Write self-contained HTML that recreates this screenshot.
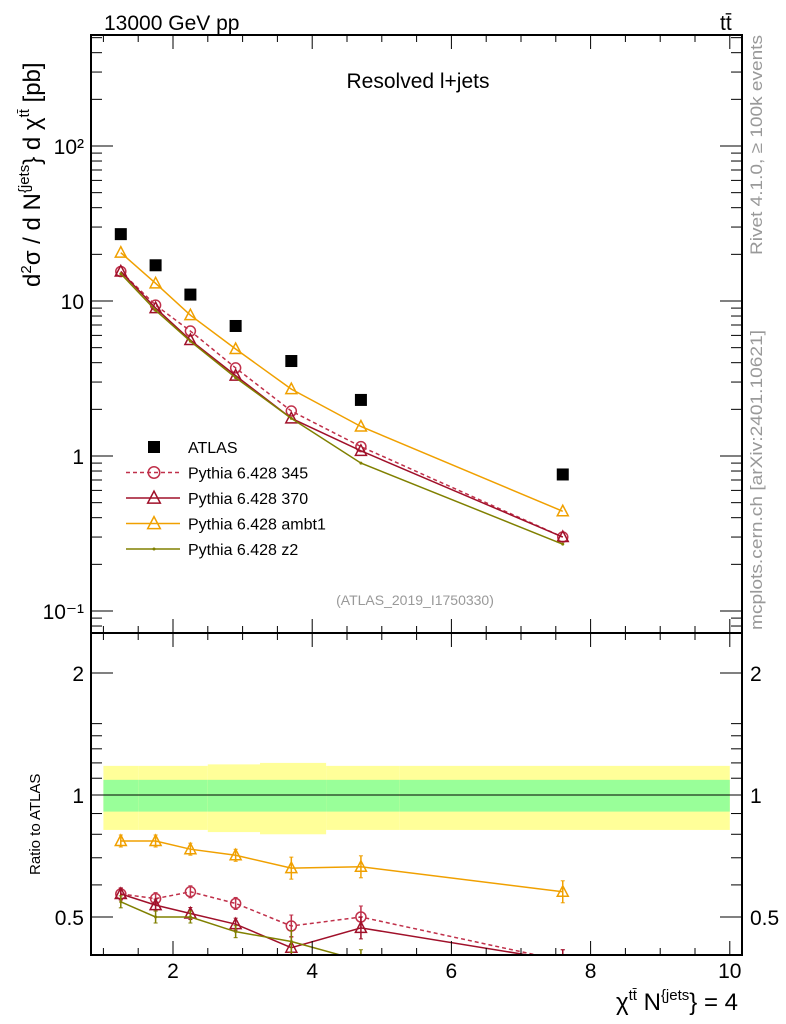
<!DOCTYPE html>
<html><head><meta charset="utf-8"><style>
body{margin:0;background:#fff}
svg{display:block;font-family:"Liberation Sans",sans-serif}
</style></head><body>
<svg id="c" width="786" height="1024" viewBox="0 0 786 1024">
<g id="g"></g>
<text x="104" y="30" font-size="21">13000 GeV pp</text>
<text x="720" y="30" font-size="21">tt̄</text>
<text x="418" y="88" font-size="21" text-anchor="middle">Resolved l+jets</text>
<text x="415" y="605" font-size="14" fill="#999" text-anchor="middle">(ATLAS_2019_I1750330)</text>
<text transform="translate(762,255) rotate(-90)" font-size="17" fill="#999" textLength="220" lengthAdjust="spacingAndGlyphs">Rivet 4.1.0, ≥ 100k events</text>
<text transform="translate(762,630) rotate(-90)" font-size="17" fill="#999" textLength="300" lengthAdjust="spacingAndGlyphs">mcplots.cern.ch [arXiv:2401.10621]</text>
<text transform="translate(40,287) rotate(-90)" font-size="24">d<tspan dy="-9" font-size="15">2</tspan><tspan dy="9">σ  /   d N</tspan><tspan dy="-11" font-size="15">{jets</tspan><tspan dy="11">} d χ</tspan><tspan dy="-11" font-size="15">tt̄</tspan><tspan dy="11"> [pb]</tspan></text>
<text transform="translate(40,875) rotate(-90)" font-size="15">Ratio to ATLAS</text>
<text x="738" y="1010" font-size="24" text-anchor="end">χ<tspan dy="-10" font-size="15">tt̄</tspan><tspan dy="10"> N</tspan><tspan dy="-10" font-size="15">{jets</tspan><tspan dy="10">} = 4</tspan></text>
</svg>
<script>
const xv=[1.25,1.75,2.25,2.9,3.7,4.7,7.6];
const edges=[1,1.5,2,2.5,3.25,4.2,5.25,10];
const atlas=[27,17,11,6.9,4.1,2.3,0.76];
const p345=[15.5,9.4,6.4,3.7,1.95,1.15,0.30];
const p370=[15.5,9.0,5.6,3.3,1.75,1.08,0.30];
const ambt1=[20.5,13,8.1,4.9,2.7,1.55,0.44];
const z2=[15,8.7,5.5,3.2,1.75,0.9,0.27];
const r345=[0.57,0.555,0.577,0.54,0.475,0.5,0.39];
const r370=[0.57,0.535,0.51,0.48,0.42,0.47,0.39];
const rambt1=[0.77,0.77,0.735,0.71,0.66,0.665,0.577];
const rz2=[0.545,0.5,0.5,0.46,0.435,0.39,0.355];
const bandStat=[1.09,1.09,1.09,1.09,1.09,1.09,1.09];
const bandTot=[1.18,1.18,1.18,1.19,1.2,1.18,1.18];
const xTicks=[2,4,6,8,10];
const yTicks=[[0.1,'10⁻¹'],[1,'1'],[10,'10'],[100,'10²']];
const rTicks=[0.5,1,2];

const NS='http://www.w3.org/2000/svg',G=document.getElementById('g');
const L=91,R=742,T=35,MB=633,RB=955;
const X=v=>173+(v-2)*69.6;
const Y=v=>456-155*Math.log10(v);
const RY=v=>795-122*Math.log2(v);
function el(t,a,p){const e=document.createElementNS(NS,t);for(const k in a)e.setAttribute(k,a[k]);(p||G).appendChild(e);return e;}
const defs=el('defs',{});const cp=el('clipPath',{id:'rc'},defs);el('rect',{x:L,y:MB,width:R-L,height:RB-MB},cp);
const cm=el('clipPath',{id:'mc'},defs);el('rect',{x:L,y:T,width:R-L,height:MB-T},cm);
for(let i=0;i<edges.length-1;i++){
 const x1=X(edges[i]),x2=X(edges[i+1]);
 let b=el('rect',{x:x1,y:RY(bandTot[i]),width:x2-x1,height:RY(2-bandTot[i])-RY(bandTot[i]),fill:'#ffff99'});
 
 b=el('rect',{x:x1,y:RY(bandStat[i]),width:x2-x1,height:RY(2-bandStat[i])-RY(bandStat[i]),fill:'#99ff99'});
 
}
el('line',{x1:L,x2:R,y1:RY(1),y2:RY(1),stroke:'#000','stroke-width':1});
const S=[
 {n:'pythia-345',m:p345,r:r345,c:'#c0304a',d:'4,3',mk:'o'},
 {n:'pythia-370',m:p370,r:r370,c:'#a0102a',d:'',mk:'t'},
 {n:'pythia-ambt1',m:ambt1,r:rambt1,c:'#f0a000',d:'',mk:'t'},
 {n:'pythia-z2',m:z2,r:rz2,c:'#808000',d:'',mk:'d'}];
function marker(p,x,y,s,c,nm,sz){
 let e;const k=sz||1;
 if(s=='o')e=el('circle',{cx:x,cy:y,r:5*k,fill:'none',stroke:c,'stroke-width':1.5},p);
 else if(s=='t')e=el('polygon',{points:`${x},${y-6*k} ${x-5.5*k},${y+4.5*k} ${x+5.5*k},${y+4.5*k}`,fill:'none',stroke:c,'stroke-width':1.5},p);
 else e=el('circle',{cx:x,cy:y,r:1.5,fill:c},p);
 
}
for(const s of S){
 for(const [vals,fy,clip] of [[s.m,Y,'mc'],[s.r,RY,'rc']]){
  const g=el('g',{'clip-path':`url(#${clip})`});
  
  
  el('polyline',{points:xv.map((x,i)=>X(x)+','+fy(vals[i])).join(' '),fill:'none',stroke:s.c,'stroke-width':1.5,'stroke-dasharray':s.d},g);
  xv.forEach((x,i)=>{
   const y=fy(vals[i]);
   if(clip=='rc'){const e=i>=4?11:6;el('line',{x1:X(x),x2:X(x),y1:y-e,y2:y+e,stroke:s.c,'stroke-width':1.5},g);
    el('line',{x1:X(x)-2,x2:X(x)+2,y1:y-e,y2:y-e,stroke:s.c},g);el('line',{x1:X(x)-2,x2:X(x)+2,y1:y+e,y2:y+e,stroke:s.c},g);}
   marker(g,X(x),y,s.mk,s.c,s.n+'-point');
  });
 }
}
xv.forEach((x,i)=>{const r=el('rect',{x:X(x)-6,y:Y(atlas[i])-6,width:12,height:12,fill:'#000'});
 });
const lg=[['ATLAS','#000','','sq'],['Pythia 6.428 345','#c0304a','4,3','o'],['Pythia 6.428 370','#a0102a','','t'],['Pythia 6.428 ambt1','#f0a000','','t'],['Pythia 6.428 z2','#808000','','d']];
lg.forEach((l,i)=>{
 const y=447+i*25.5;const g=el('g',{});
 
 if(l[3]=='sq')el('rect',{x:148,y:y-6,width:12,height:12,fill:'#000'},g);
 else{el('line',{x1:126,x2:180,y1:y,y2:y,stroke:l[1],'stroke-width':1.5,'stroke-dasharray':l[2]},g);marker(g,154,y,l[3],l[1],'legend-marker',1.15);}
 const t=el('text',{x:188,y:y+6,'font-size':16},g);t.textContent=l[0];
});
el('rect',{x:L,y:T,width:R-L,height:MB-T,fill:'none',stroke:'#000','stroke-width':2});
el('rect',{x:L,y:MB,width:R-L,height:RB-MB,fill:'none',stroke:'#000','stroke-width':2});
for(let v=1;v<=10;v+=0.5){const x=X(v);const big=v%2==0;const len=big?14:7;
 for(const [y0,d] of [[T,1],[MB,-1],[MB,1],[RB,-1]])el('line',{x1:x,x2:x,y1:y0,y2:y0+d*len,stroke:'#000'});}
xTicks.forEach(v=>{const t=el('text',{x:X(v),y:978,'font-size':21,'text-anchor':'middle'});t.textContent=v;
 });
for(let e=-2;e<=2;e++)for(let m=1;m<10;m++){const v=m*Math.pow(10,e);const y=Y(v);if(y<T||y>MB)continue;
 const len=m==1?22:11;el('line',{x1:L,x2:L+len,y1:y,y2:y,stroke:'#000'});el('line',{x1:R,x2:R-len,y1:y,y2:y,stroke:'#000'});}
yTicks.forEach(([v,s])=>{const t=el('text',{x:84,y:Y(v)+8,'font-size':21,'text-anchor':'end'});t.textContent=s;
 });
[0.5,0.6,0.7,0.8,0.9,1,1.1,1.2,1.3,1.4,1.5,2].forEach(v=>{const y=RY(v);if(y<MB||y>RB)return;const len=rTicks.includes(v)?22:11;
 el('line',{x1:L,x2:L+len,y1:y,y2:y,stroke:'#000'});el('line',{x1:R,x2:R-len,y1:y,y2:y,stroke:'#000'});});
rTicks.forEach(v=>{for(const [x,a] of [[84,'end'],[750,'start']]){const t=el('text',{x:x,y:RY(v)+8,'font-size':21,'text-anchor':a});t.textContent=v;
 }});
</script>
</body></html>
